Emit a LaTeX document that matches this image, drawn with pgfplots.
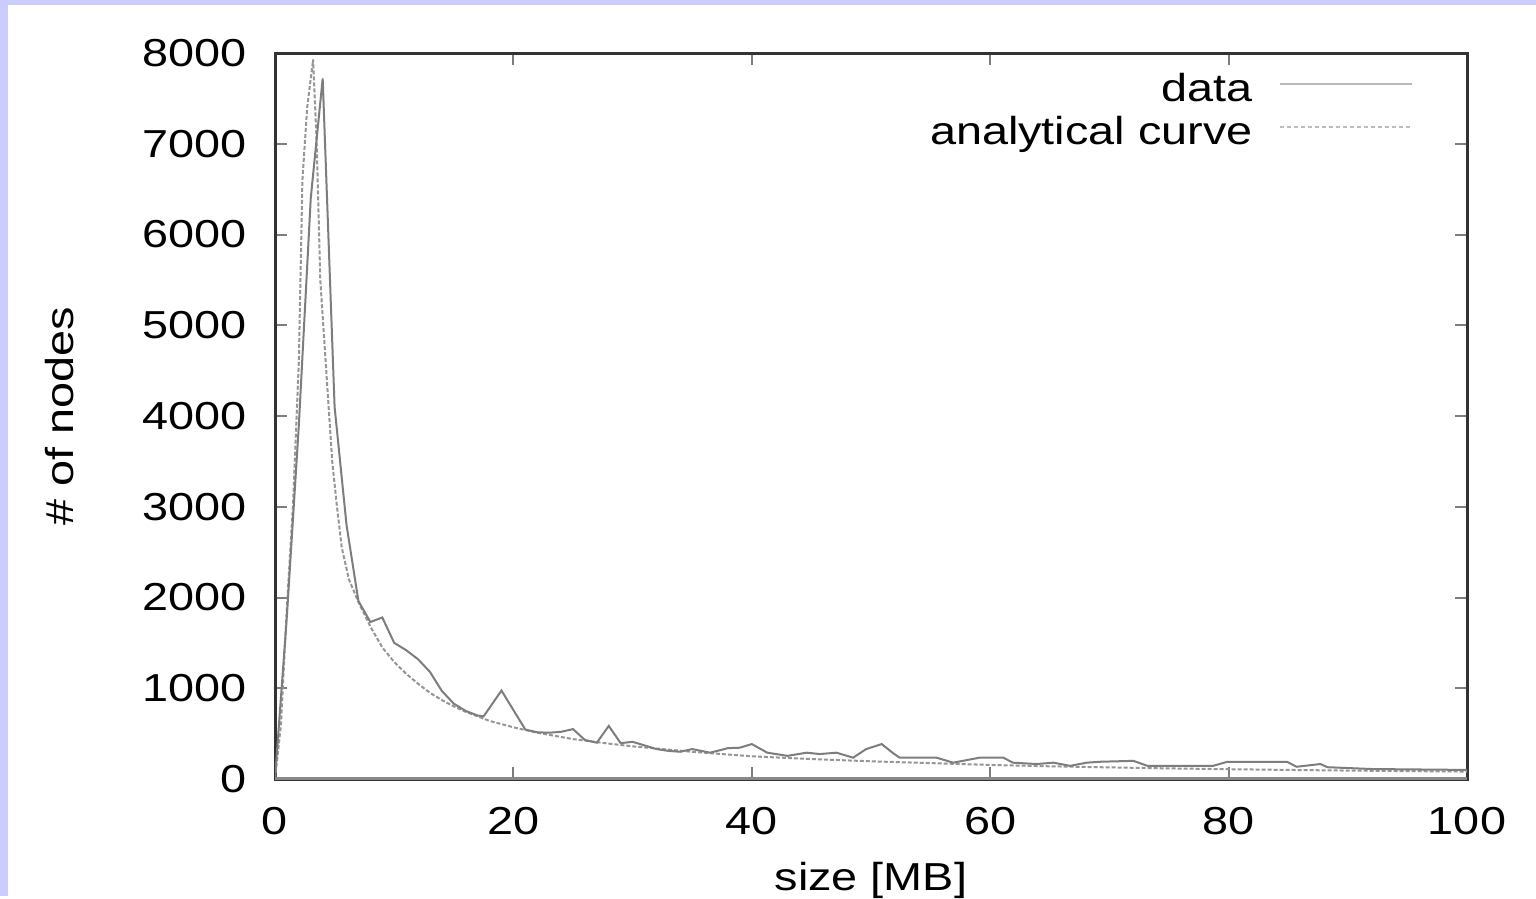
\documentclass[border=0pt]{standalone}
\usepackage{fontspec}
\setmainfont{Liberation Sans}[FakeStretch=1.2]
\usepackage{pgfplots}
\pgfplotsset{compat=1.18}
\definecolor{lav}{RGB}{204,204,255}
\definecolor{frame}{RGB}{51,51,51}
\definecolor{curve}{RGB}{125,125,125}
\definecolor{acurve}{RGB}{150,150,150}
\definecolor{legline}{RGB}{187,187,187}
\pgfplotstableread{
x y
0 0
1 1800
2 3900
3 6400
4 7720
5 4100
6 2800
7 1960
8 1730
9 1780
10 1500
11 1420
12 1320
13 1180
14 970
15 830
16 750
17 700
17.5 690
19 975
20 760
21 545
22 515
23 510
24 520
25 550
26 430
27 400
28 585
29 395
30 410
31 370
32 330
33 310
34 300
35 330
36.5 290
38 340
39 345
40 385
41.3 290
43 255
44.6 290
45.7 275
47.1 290
48.5 235
49.6 330
50.9 385
51.8 290
52.4 235
55.5 235
56.9 180
59.1 235
61.1 235
61.9 180
63.9 165
65.3 180
66.7 145
68.1 180
69.2 190
72 200
73.2 145
78.7 145
79.9 190
84.9 190
85.7 135
87.7 165
88.3 130
92 110
96 105
100 100
}\datatable
\pgfplotstableread{
x y
0 0
0.5 600
1 1900
1.5 3000
2 4600
2.3 6600
2.7 7400
3.2 7930
3.5 7000
3.8 5500
4.3 4500
4.8 3500
5.2 3000
5.6 2550
6.2 2200
7 1950
8 1680
9 1450
10 1290
11 1160
12 1050
13 950
14 870
15 800
16 740
18 640
20 570
22 510
25 440
28 390
30 360
35 300
40 250
45 220
50 195
55 175
60 155
65 140
70 128
75 117
80 108
85 100
90 93
95 87
100 82
}\analytictable
\begin{document}
\begin{tikzpicture}[x=1pt,y=1pt,font=\fontsize{19.5}{23}\selectfont]
\fill[lav] (0,0) rectangle (768,448);
\fill[white] (4,0) rectangle (768,445.5);
\begin{axis}[
  at={(137.5pt,58.5pt)}, anchor=south west,
  scale only axis, width=596pt, height=363pt,
  xmin=0, xmax=100, ymin=0, ymax=8000,
  xtick={0,20,...,100}, ytick={0,1000,...,8000},
  /pgf/number format/assume math mode=true,
  /pgf/number format/1000 sep={},
  axis line style={frame, line width=1.5pt},
  major tick length=6pt,
  every tick/.style={curve, line width=1pt},
  yticklabel style={inner sep=0pt, anchor=east, xshift=-14pt},
  xticklabel style={inner sep=0pt, anchor=north, yshift=-14pt},
  xlabel={size [MB]},
  ylabel={\# of nodes},
  xlabel style={at={(axis description cs:0.5,-0.153)}, anchor=base, inner sep=0pt},
  ylabel style={at={(axis description cs:-0.1804,0.5)}, anchor=center, inner sep=0pt},
  legend style={draw=none, fill=none, at={(rel axis cs:1,1)}, anchor=north east,
    xshift=-27pt, yshift=-10pt, inner sep=0pt, row sep=6pt, column sep=13pt,
    nodes={inner sep=0pt}},
  legend cell align=right,
  legend plot pos=right,
  legend image code/.code={\draw[#1] (0pt,0.27em)--(66pt,0.27em);},
]
\addlegendimage{legline, line width=1pt}
\addlegendentry{data}
\addlegendimage{legline, line width=1pt, dash pattern=on 2pt off 1.5pt}
\addlegendentry{analytical curve}
\addplot[forget plot, acurve, line width=1pt, dash pattern=on 2pt off 1pt] table[x=x,y=y] {\analytictable};
\addplot[forget plot, curve, line width=1pt] table[x=x,y=y] {\datatable};
\draw[color={rgb,255:red,136;green,136;blue,136}, line width=2.5pt] (rel axis cs:0,0) -- (rel axis cs:1,0);
\end{axis}
\end{tikzpicture}
\end{document}
